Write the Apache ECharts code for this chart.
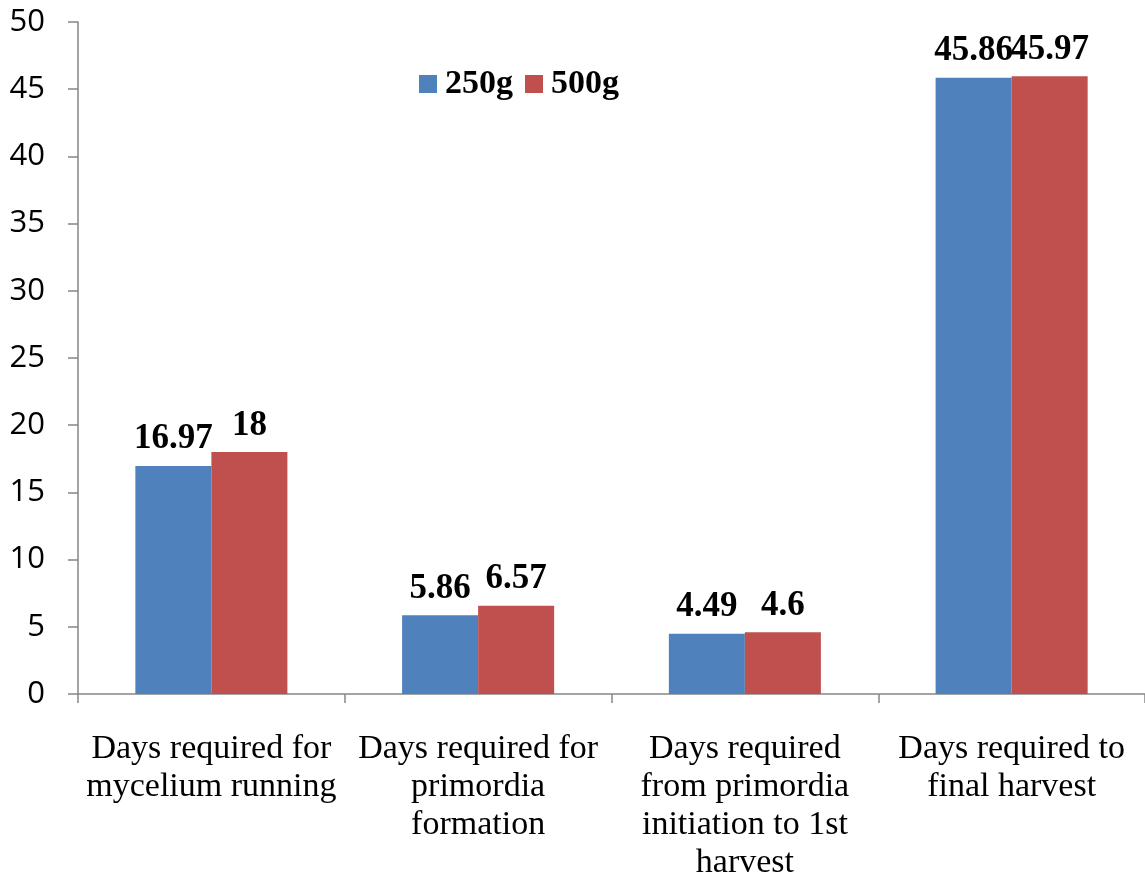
<!DOCTYPE html>
<html>
<head>
<meta charset="utf-8">
<script src="https://cdn.jsdelivr.net/npm/echarts@6/dist/echarts.min.js"></script>
<style>
  html, body { margin: 0; padding: 0; background: #fff; }
  #chart { width: 1145px; height: 882px; }
</style>
</head>
<body>
<div id="chart"></div>
<script>
const categories = [
  "Days required for\nmycelium running",
  "Days required for\nprimordia\nformation",
  "Days required\nfrom primordia\ninitiation to 1st\nharvest",
  "Days required to\nfinal harvest",
];
const w250 = [16.97, 5.86, 4.49, 45.86];
const w500 = [18, 6.57, 4.6, 45.97];
const yTicks = { min: 0, max: 50, interval: 5 };

const serif = "'Liberation Serif', 'Times New Roman', serif";
const labelStyle = { show: true, position: "top", distance: 9, color: "#000", fontFamily: serif, fontWeight: "bold", fontSize: 35 };

echarts.init(document.getElementById("chart")).setOption({
  animation: false,
  grid: { left: 78, right: 0, top: 22, bottom: 187, containLabel: false },
  legend: {
    left: 414, top: 62, itemWidth: 18, itemHeight: 18, itemGap: 12,
    icon: "rect",
    textStyle: { fontFamily: serif, fontWeight: "bold", fontSize: 34, color: "#000", padding: [0, 0, 0, 3] },
    data: ["250g", "500g"],
  },
  xAxis: {
    type: "category", data: categories,
    axisLine: { lineStyle: { color: "#868686", width: 1.5 } },
    axisTick: { show: true, length: 9, lineStyle: { color: "#868686", width: 1.5 } },
    axisLabel: { interval: 0, margin: 36, fontFamily: serif, fontSize: 34, color: "#000", lineHeight: 38 },
  },
  yAxis: {
    type: "value", min: yTicks.min, max: yTicks.max, interval: yTicks.interval,
    splitLine: { show: false },
    axisLine: { show: true, lineStyle: { color: "#868686", width: 1.5 } },
    axisTick: { show: true, length: 10, lineStyle: { color: "#868686", width: 1.5 } },
    axisLabel: { margin: 33, fontFamily: "'Open Sans', 'DejaVu Sans', sans-serif", fontSize: 31, color: "#000" },
  },
  series: [
    { name: "250g", type: "bar", data: w250, barGap: "0%", barCategoryGap: "43%",
      itemStyle: { color: "#4F81BD" }, label: labelStyle },
    { name: "500g", type: "bar", data: w500, barGap: "0%", barCategoryGap: "43%",
      itemStyle: { color: "#C0504D" }, label: labelStyle },
  ],
});
</script>
</body>
</html>
